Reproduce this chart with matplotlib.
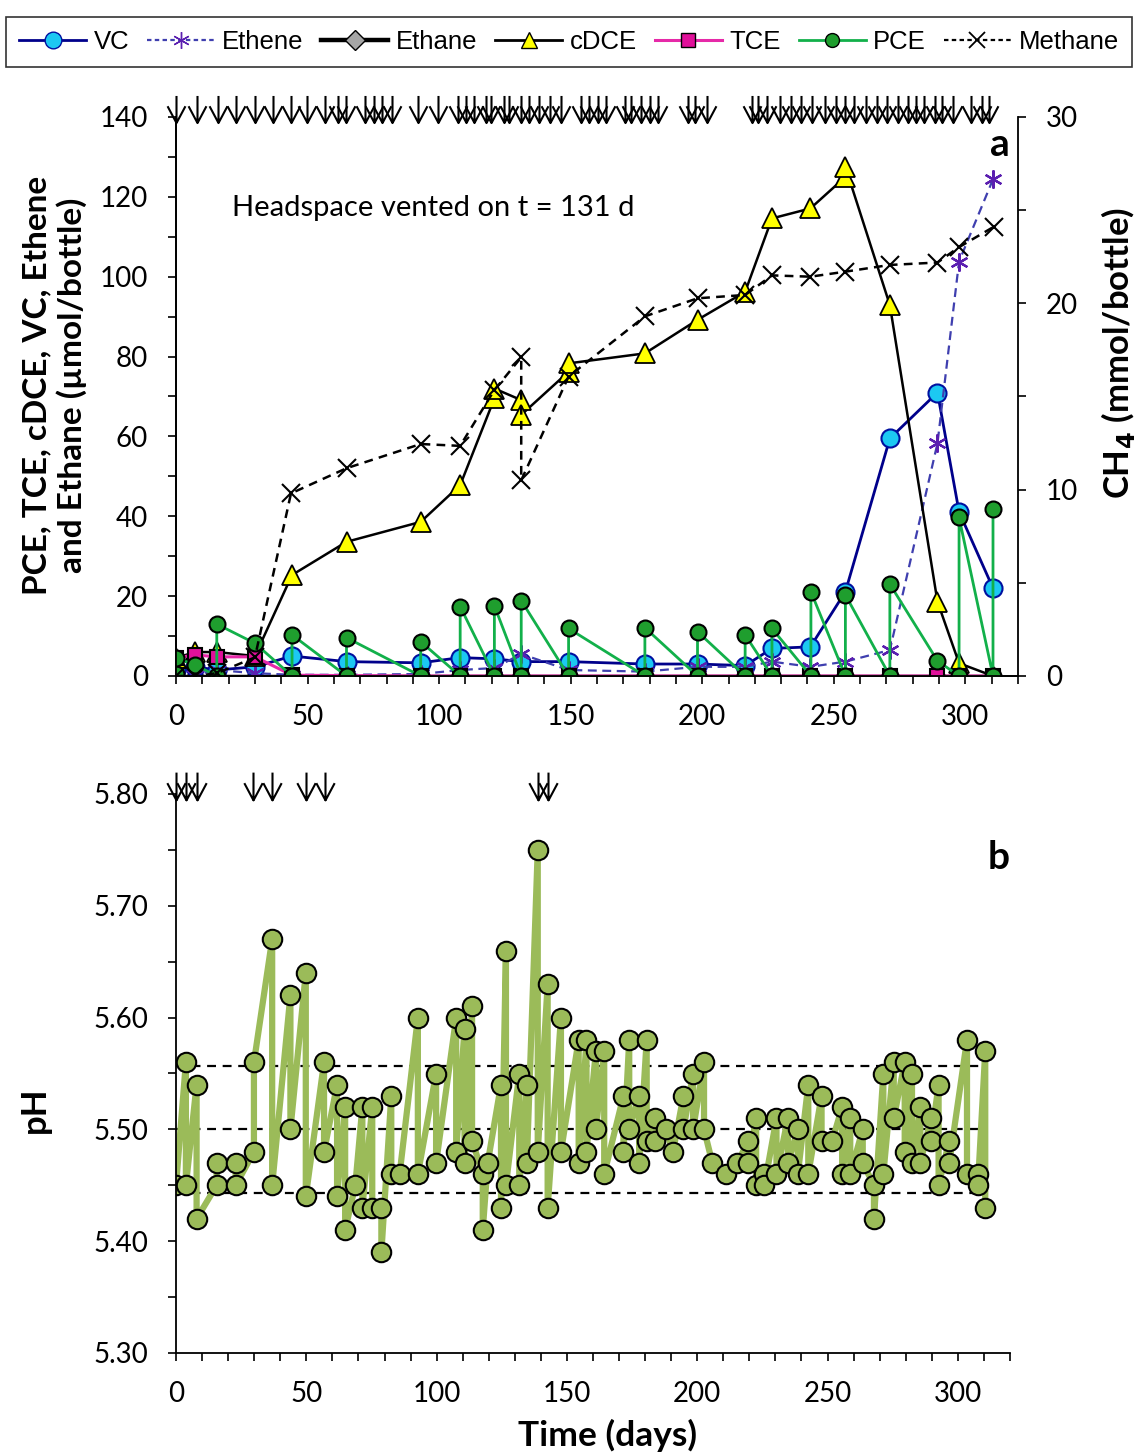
import matplotlib
matplotlib.use("Agg")
import matplotlib.pyplot as plt
from matplotlib.path import Path
from matplotlib.lines import Line2D
from matplotlib.ticker import MultipleLocator, FormatStrFormatter

plt.rcParams['font.family'] = ['Lato', 'DejaVu Sans']

# ---- panel a data (days, umol/bottle; methane in mmol/bottle) ----
days = [0, 7.2, 15.5, 30, 44.1, 64.8, 93, 108, 121, 131.2, 149.2,
        178.2, 198.2, 216.3, 226.5, 241.1, 254.4, 271.3, 289.4, 297.6, 310.5]
vc = [1.5, 2.3, 1.5, 2.3, 5.0, 3.6, 3.3, 4.6, 4.3, 3.6, 3.6,
      3.0, 3.0, 2.6, 6.9, 7.3, 21.1, 59.5, 71.0, 41.1, 22.0]
ethene = [0, 0.3, 1.5, 0.7, 0.3, 0.3, 0.5, 1.5, 2.0, 5.5, 1.5,
          1.1, 2.3, 2.3, 3.6, 2.3, 3.6, 6.5, 58.3, 103.8, 124.4]
ethane = [0] * 21
tce = [4.5, 5.3, 4.8, 4.8, 0.2, 0.1, 0, 0, 0, 0, 0,
       0, 0, 0, 0, 0, 0, 0, 0, 0, 0]

cdce_days = [0, 7.2, 15.5, 30, 44.1, 64.8, 93, 108, 121, 121, 131.2, 131.2,
             149.2, 149.2, 178.2, 198.2, 216.3, 226.5, 241.1, 254.4, 254.4,
             271.3, 289.4, 297.6, 310.5]
cdce = [4.5, 6, 6, 5, 25.3, 33.6, 38.6, 47.8, 69.5, 72, 69.1, 65.4,
        76.2, 78.3, 80.8, 89.2, 96.2, 114.6, 117.1, 125, 127.5,
        92.9, 18.6, 3.2, 0]

pce_days = [0, 0, 7.2, 15.5, 15.5, 30, 44.1, 44.1, 64.8, 64.8, 93, 93,
            108, 108, 121, 121, 131.2, 131.2, 149.2, 149.2, 178.2, 178.2,
            198.2, 198.2, 216.3, 216.3, 226.5, 226.5, 241.3, 241.3,
            254.4, 254.4, 271.3, 271.3, 289.4, 297.6, 297.6, 310.5, 310.5]
pce = [0.5, 4.5, 2.8, 0, 13, 8.2, 0, 10.3, 0, 9.6, 0, 8.6,
       0, 17.4, 0, 17.6, 0, 18.9, 0, 11.9, 0, 12.1,
       0, 11.1, 0, 10.3, 0, 11.9, 0, 21.1,
       0, 20.3, 0, 23.0, 3.8, 0, 39.7, 0, 41.7]

ch4_days = [0, 7.2, 15.5, 30, 43.7, 64.8, 93, 108, 121, 131.2, 131.2, 149.2,
            178.2, 198.2, 216.3, 226.5, 241.1, 254.4, 271.3, 289.4, 297.4, 310.7]
ch4 = [0, 0, 0.15, 1.0, 9.8, 11.15, 12.45, 12.35, 15.35, 17.1, 10.5, 16.07,
       19.3, 20.27, 20.45, 21.5, 21.43, 21.7, 22.06, 22.19, 23.0, 24.1]

arrows_a = [0, 7.9, 15.9, 22.9, 29.9, 36.9, 43.7, 49.6, 56.6, 61.5, 64.5, 72,
            75.2, 78.4, 82.2, 91.8, 99.4, 107.3, 110.2, 113.1, 117.8, 119.7,
            124.8, 126.7, 131.2, 134.3, 138.1, 142, 146.4, 154, 156.8, 160.4,
            163.6, 170.5, 173, 176.9, 180, 183.3, 194.7, 197.3, 201.7, 218.9,
            221, 224.5, 229.7, 233.7, 237.6, 241.7, 246.8, 250.7, 254.4, 257.6,
            262.3, 266.5, 270.3, 274.5, 278.3, 281.1, 284.3, 288.4, 291.3,
            295.3, 302.1, 306.3, 309.1]

# ---- panel b data (pH) ----
ph_days = [0, 3.8, 3.8, 7.9, 7.9, 15.6, 15.6, 22.9, 22.9, 29.9, 29.9,
           36.9, 36.9, 43.9, 43.9, 49.8, 49.8, 56.8, 56.8, 61.8, 61.8,
           64.9, 64.9, 68.8, 71.5, 71.5, 75.3, 75.3, 78.8, 78.8, 82.6, 82.6,
           85.8, 92.8, 92.8, 99.8, 99.8, 107.5, 107.5, 110.7, 110.7,
           113.6, 113.6, 117.7, 117.7, 119.6, 124.7, 124.7, 126.6, 126.6,
           131.7, 131.7, 134.6, 134.6, 138.8, 138.8, 142.6, 142.6,
           147.7, 147.7, 154.5, 154.5, 157.5, 157.5, 161.1, 161.1,
           164.3, 164.3, 171.7, 171.7, 173.9, 173.9, 177.7, 177.7,
           180.6, 180.6, 183.7, 183.7, 187.9, 190.7, 194.7, 194.7,
           198.4, 198.4, 202.6, 202.6, 205.8, 210.9, 215.4, 219.6, 219.6,
           222.6, 222.6, 225.8, 225.8, 230.4, 230.4, 234.8, 234.8,
           238.6, 238.6, 242.6, 242.6, 247.7, 247.7, 251.8, 255.6, 255.6,
           258.7, 258.7, 263.5, 263.5, 267.8, 267.8, 271.4, 271.4,
           275.4, 275.4, 279.6, 279.6, 282.4, 282.4, 285.6, 285.6,
           289.7, 289.7, 292.6, 292.6, 296.7, 296.7, 303.5, 303.5,
           307.7, 307.7, 310.5, 310.5]
ph = [5.45, 5.56, 5.45, 5.54, 5.42, 5.45, 5.47, 5.47, 5.45, 5.48, 5.56,
      5.67, 5.45, 5.62, 5.50, 5.64, 5.44, 5.56, 5.48, 5.54, 5.44,
      5.52, 5.41, 5.45, 5.52, 5.43, 5.52, 5.43, 5.43, 5.39, 5.53, 5.46,
      5.46, 5.60, 5.46, 5.55, 5.47, 5.60, 5.48, 5.59, 5.47,
      5.61, 5.49, 5.46, 5.41, 5.47, 5.54, 5.43, 5.66, 5.45,
      5.55, 5.45, 5.54, 5.47, 5.75, 5.48, 5.63, 5.43,
      5.60, 5.48, 5.58, 5.47, 5.58, 5.48, 5.57, 5.50,
      5.57, 5.46, 5.53, 5.48, 5.58, 5.50, 5.53, 5.47,
      5.58, 5.49, 5.51, 5.49, 5.50, 5.48, 5.53, 5.50,
      5.55, 5.50, 5.56, 5.50, 5.47, 5.46, 5.47, 5.49, 5.47,
      5.51, 5.45, 5.46, 5.45, 5.51, 5.46, 5.51, 5.47,
      5.50, 5.46, 5.54, 5.46, 5.53, 5.49, 5.49, 5.52, 5.46,
      5.51, 5.46, 5.50, 5.47, 5.45, 5.42, 5.55, 5.46,
      5.56, 5.51, 5.56, 5.48, 5.55, 5.47, 5.52, 5.47,
      5.51, 5.49, 5.54, 5.45, 5.49, 5.47, 5.58, 5.46,
      5.46, 5.45, 5.57, 5.43]
ph_bands = [5.557, 5.50, 5.443]
arrows_b = [0, 3.8, 7.9, 29.6, 37.0, 49.8, 57.1, 138.8, 142.6]

# down-arrow marker: shaft plus a wide open head
arrow = Path([(0, 0.5), (0, -0.5), (-0.33, 0.12), (0, -0.5), (0.33, 0.12)],
             [Path.MOVETO, Path.LINETO, Path.MOVETO, Path.LINETO, Path.LINETO])

W, H = 1135, 1454
fig = plt.figure(figsize=(W / 100, H / 100), dpi=100)

# ---------------- panel a ----------------
ax1 = fig.add_axes([176 / W, 1 - 676 / H, 842 / W, 559 / H])
ax2 = ax1.twinx()

ax1.plot(days, ethane, color='black', lw=2.5, marker='D', ms=9,
         mfc='#A6A6A6', mec='black', zorder=1)
ax1.plot(days, vc, color='#00008B', lw=2, marker='o', ms=13,
         mfc='#1CC8F2', mec='#0010A0', mew=1.5, zorder=2)
ax1.plot(days, ethene, color='#3F3FAF', lw=1.6, ls=(0, (4, 2.5)), marker=(6, 2, 0),
         ms=13, mec='#5B1FB0', mew=1.6, zorder=3)
ax1.plot(cdce_days, cdce, color='black', lw=1.8, marker='^', ms=15,
         mfc='#FFFF00', mec='black', mew=1.3, zorder=4)
ax1.plot(days, tce, color='#E629A8', lw=2.2, marker='s', ms=10,
         mfc='#E0109A', mec='black', mew=1.5, zorder=5)
ax1.plot(pce_days, pce, color='#12B04A', lw=2, marker='o', ms=11.5,
         mfc='#1F9E2E', mec='black', mew=1.5, zorder=6)
ax2.plot(ch4_days, ch4, color='black', lw=1.8, ls=(0, (3.5, 2.5)), marker='x',
         ms=13, mew=1.5, zorder=7)

ax1.plot(arrows_a, [142] * len(arrows_a), ls='none', marker=arrow, ms=19.5,
         mec='black', mfc='none', mew=1.5, clip_on=False, zorder=8)

ax1.set_xlim(0, 320)
ax1.set_ylim(0, 140)
ax2.set_ylim(0, 30)
ax1.xaxis.set_major_locator(MultipleLocator(50))
ax1.xaxis.set_minor_locator(MultipleLocator(10))
ax1.yaxis.set_major_locator(MultipleLocator(20))
ax1.yaxis.set_minor_locator(MultipleLocator(10))
ax2.yaxis.set_major_locator(MultipleLocator(10))
ax2.yaxis.set_minor_locator(MultipleLocator(5))
for a in (ax1, ax2):
    a.spines['top'].set_visible(False)
    for s in a.spines.values():
        s.set_linewidth(1.3)
    a.tick_params(which='both', direction='out', length=6, width=1.2,
                  labelsize=20, pad=14)
ax1.spines['right'].set_visible(False)

ax1.text(21.3, 117.2, 'Headspace vented on t = 131 d', fontsize=21,
         ha='left', va='center')
ax1.text(313, 133, 'a', fontsize=28, fontweight='bold', ha='center', va='center')

fig.text(55 / W, 1 - 385 / H, 'PCE, TCE, cDCE, VC, Ethene\nand Ethane (µmol/bottle)',
         rotation=90, ha='center', va='center', fontsize=24, fontweight='bold',
         multialignment='center', linespacing=1.2)
fig.text(1118 / W, 1 - 353 / H, 'CH$_\\mathbf{4}$ (mmol/bottle)', rotation=90,
         ha='center', va='center', fontsize=25, fontweight='bold')

# legend
handles = [
    Line2D([], [], color='#00008B', lw=2, marker='o', ms=12, mfc='#1CC8F2', mec='#0010A0'),
    Line2D([], [], color='#3F3FAF', lw=1.6, ls=(0, (2, 1.5)), marker=(6, 2, 0), ms=12, mec='#5B1FB0'),
    Line2D([], [], color='black', lw=3.2, marker='D', ms=10, mfc='#A6A6A6', mec='black', mew=1),
    Line2D([], [], color='black', lw=2, marker='^', ms=12, mfc='#FFFF00', mec='black'),
    Line2D([], [], color='#E629A8', lw=2.2, marker='s', ms=10, mfc='#E0109A', mec='black'),
    Line2D([], [], color='#12B04A', lw=2, marker='o', ms=10, mfc='#1F9E2E', mec='black'),
    Line2D([], [], color='black', lw=1.6, ls=(0, (2, 1.5)), marker='x', ms=11, mew=1.3),
]
labels = ['VC', 'Ethene', 'Ethane', 'cDCE', 'TCE', 'PCE', 'Methane']
leg = fig.legend(handles, labels, loc='center', bbox_to_anchor=(569 / W, 1 - 42 / H),
                 ncol=7, frameon=True, fancybox=False, edgecolor='black',
                 handlelength=2.6, handletextpad=0.3, columnspacing=0.7,
                 borderpad=0.5, borderaxespad=0,
                 prop={'family': ['Liberation Sans'], 'size': 18.5})
leg.get_frame().set_linewidth(1.2)

# ---------------- panel b ----------------
ax3 = fig.add_axes([176 / W, 1 - 1353 / H, 834 / W, 559 / H])
ax3.hlines(ph_bands, 0, 310, colors='black', linestyles=(0, (4, 3)), lw=1.6, zorder=1)
ax3.plot(ph_days, ph, color='#9BBB59', lw=4.5, marker='o', ms=14,
         mfc='#9BBB59', mec='black', mew=1.5, zorder=2)
ax3.plot(arrows_b, [5.807] * len(arrows_b), ls='none', marker=arrow, ms=20,
         mec='black', mfc='none', mew=1.5, clip_on=False, zorder=3)

ax3.set_xlim(0, 320)
ax3.set_ylim(5.30, 5.80)
ax3.xaxis.set_major_locator(MultipleLocator(50))
ax3.xaxis.set_minor_locator(MultipleLocator(10))
ax3.yaxis.set_major_locator(MultipleLocator(0.1))
ax3.yaxis.set_minor_locator(MultipleLocator(0.05))
ax3.yaxis.set_major_formatter(FormatStrFormatter('%.2f'))
ax3.spines['top'].set_visible(False)
ax3.spines['right'].set_visible(False)
for s in ax3.spines.values():
    s.set_linewidth(1.3)
ax3.tick_params(which='both', direction='out', length=6, width=1.2,
                labelsize=20, pad=14)
ax3.text(315.6, 5.743, 'b', fontsize=28, fontweight='bold', ha='center', va='center')

fig.text(35 / W, 1 - 1110 / H, 'pH', rotation=90, ha='center', va='center',
         fontsize=25, fontweight='bold')
fig.text(607 / W, 1 - 1435 / H, 'Time (days)', ha='center', va='center',
         fontsize=25.5, fontweight='bold')

fig.savefig('out.png', dpi=100)
